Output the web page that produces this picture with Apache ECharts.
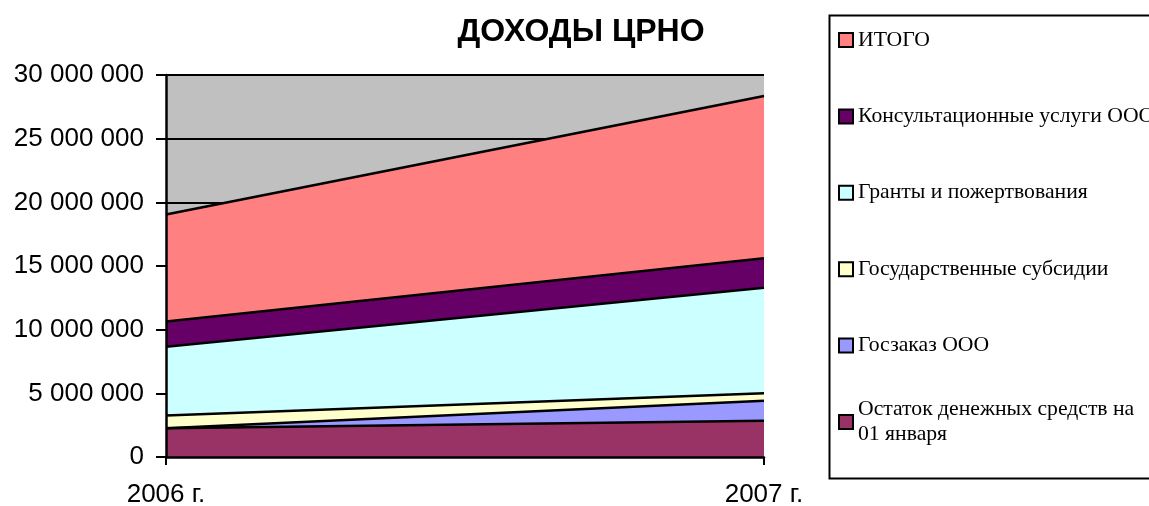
<!DOCTYPE html>
<html>
<head>
<meta charset="utf-8">
<script src="https://cdn.jsdelivr.net/npm/echarts@6/dist/echarts.min.js"></script>
<style>html,body{margin:0;padding:0;background:#fff}#c{width:1149px;height:506px}</style>
</head>
<body>
<div id="c"></div>
<script>
const categories = ['2006 г.', '2007 г.'];
const ostatok   = [2250000, 2850000];
const goszakaz  = [0, 1570000];
const subsidii  = [1000000, 580000];
const granty    = [5400000, 8300000];
const konsult   = [2000000, 2300000];
const itogo     = [8400000, 12750000];
const yTicks = { min: 0, max: 30000000, interval: 5000000 };

const names = ['Остаток денежных средств на 01 января', 'Госзаказ ООО', 'Государственные субсидии', 'Гранты и пожертвования', 'Консультационные услуги ООО', 'ИТОГО'];
const colors = ['#993366', '#9999FF', '#FFFFCC', '#CCFFFF', '#660066', '#FF8080'];
const values = [ostatok, goszakaz, subsidii, granty, konsult, itogo];

function fmt(v) { return String(v).replace(/\B(?=(\d{3})+(?!\d))/g, ' '); }

const chart = echarts.init(document.getElementById('c'), null, { renderer: 'canvas' });
const series = names.map((n, i) => ({
  name: n, type: 'line', stack: 'total', data: values[i],
  showSymbol: false, symbol: 'none',
  lineStyle: { color: '#000', width: 2.5 },
  itemStyle: { color: colors[i], borderColor: '#000', borderWidth: 1.5 },
  areaStyle: { color: colors[i], opacity: 1 },
  z: 2
}));
chart.setOption({
  animation: false,
  backgroundColor: '#fff',
  title: {
    text: 'ДОХОДЫ ЦРНО', left: 581, textAlign: 'center', top: 16, padding: 0,
    textStyle: { fontFamily: 'Liberation Sans', fontWeight: 'bold', fontSize: 32, color: '#000' }
  },
  grid: { left: 166, right: 385, top: 75, bottom: 49, show: true, backgroundColor: '#C0C0C0', borderWidth: 0, containLabel: false, outerBoundsMode: 'none' },
  legend: [{
    orient: 'vertical', left: 838, top: 28, padding: 0, itemGap: 52.4,
    itemWidth: 14, itemHeight: 14, icon: 'rect',
    data: names.slice(1).reverse(),
    textStyle: { fontFamily: 'Liberation Serif', fontSize: 21.7, color: '#000', lineHeight: 24 },
    itemStyle: { borderColor: '#000', borderWidth: 2 }
  }, {
    orient: 'vertical', left: 838, top: 384.5, padding: 0,
    itemWidth: 14, itemHeight: 14, icon: 'rect',
    data: [names[0]],
    formatter: () => 'Остаток денежных средств на\n01 января',
    textStyle: { fontFamily: 'Liberation Serif', fontSize: 21.7, color: '#000', lineHeight: 25, padding: [25, 0, 0, 0] },
    itemStyle: { borderColor: '#000', borderWidth: 2 }
  }],
  graphic: [{
    type: 'rect', left: 827, top: 13, shape: { width: 340, height: 463 },
    style: { fill: 'none', stroke: '#000', lineWidth: 2 }, silent: true
  }],
  xAxis: {
    type: 'category', data: categories, boundaryGap: false,
    axisLine: { lineStyle: { color: '#000', width: 2.5 } },
    axisTick: { show: true, length: 8, lineStyle: { color: '#000', width: 2 } },
    axisLabel: { fontFamily: 'Liberation Sans', fontSize: 26, color: '#000', margin: 25 },
    splitLine: { show: false }, z: 5
  },
  yAxis: [{
    type: 'value', min: yTicks.min, max: yTicks.max, interval: yTicks.interval,
    axisLine: { show: false }, axisTick: { show: false }, axisLabel: { show: false },
    splitLine: { show: true, lineStyle: { color: '#000', width: 2 } }, z: 0
  }, {
    type: 'value', position: 'left', min: yTicks.min, max: yTicks.max, interval: yTicks.interval,
    axisLine: { show: true, lineStyle: { color: '#000', width: 2.5 } },
    axisTick: { show: true, length: 10, lineStyle: { color: '#000', width: 2 } },
    axisLabel: { fontFamily: 'Liberation Sans', fontSize: 26, color: '#000', margin: 22, formatter: v => fmt(v) },
    splitLine: { show: false }, z: 5
  }],
  series: series
});
</script>
</body>
</html>
